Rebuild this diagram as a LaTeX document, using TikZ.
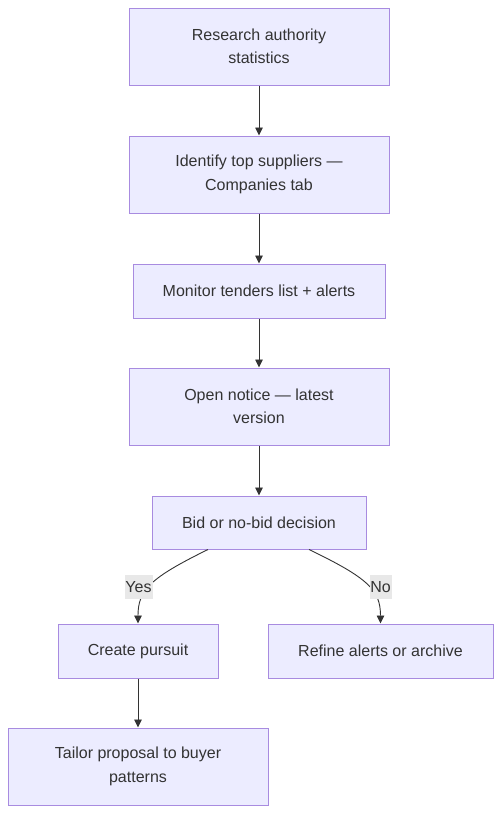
\documentclass[tikz,border=0pt]{standalone}
\usepackage{fontspec}
\setmainfont{Liberation Sans}
\usetikzlibrary{arrows.meta}
\definecolor{boxfill}{HTML}{ECECFF}
\definecolor{boxline}{HTML}{A88BE0}
\definecolor{inkgrey}{HTML}{333333}
\definecolor{labelbg}{HTML}{E8E8E8}

\begin{document}
\begin{tikzpicture}[x=1pt,y=1pt,
    stepbox/.style={draw=boxline,fill=boxfill,line width=1pt,text=inkgrey,align=center,
      inner sep=0pt,font=\fontsize{16}{23.5}\selectfont},
    flow/.style={draw=inkgrey,line width=0.9pt,-{Triangle[length=8pt,width=7.5pt]}},
    choice/.style={fill=labelbg,text=inkgrey,inner sep=0pt,minimum width=28pt,minimum height=24pt,
      font=\fontsize{16}{19}\selectfont}]
  \useasboundingbox (0,0) rectangle (501,-814);
  \node[stepbox,minimum width=260pt,minimum height=77pt] (research) at (259,-46.5) {Research authority\\statistics};
  \node[stepbox,minimum width=260pt,minimum height=77pt] (suppliers) at (259,-174.5) {Identify top suppliers ---\\Companies tab};
  \node[stepbox,minimum width=252pt,minimum height=54pt] (monitor) at (259,-291) {Monitor tenders list + alerts};
  \node[stepbox,minimum width=260pt,minimum height=77pt] (notice) at (259,-406.5) {Open notice --- latest\\version};
  \node[stepbox,minimum width=214pt,minimum height=53pt] (decision) at (259,-522.5) {Bid or no-bid decision};
  \node[stepbox,minimum width=160pt,minimum height=54pt] (pursuit) at (138,-651) {Create pursuit};
  \node[stepbox,minimum width=225pt,minimum height=54pt] (refine) at (380.5,-651) {Refine alerts or archive};
  \node[stepbox,minimum width=260pt,minimum height=77pt] (tailor) at (138,-766.5) {Tailor proposal to buyer\\patterns};

  \draw[flow] (research) -- (suppliers);
  \draw[flow] (suppliers) -- (monitor);
  \draw[flow] (monitor) -- (notice);
  \draw[flow] (notice) -- (decision);
  \draw[flow] ([xshift=-51pt]decision.south) .. controls (150,-578) and (138,-590) .. (pursuit.north);
  \draw[flow] ([xshift=50pt]decision.south) .. controls (368,-578) and (380.5,-590) .. (refine.north);
  \draw[flow] (pursuit) -- (tailor);

  \node[choice] (yes) at (138.5,-587) {Yes};
  \node[choice,minimum width=22pt] (no) at (380.5,-587) {No};
\end{tikzpicture}
\end{document}
